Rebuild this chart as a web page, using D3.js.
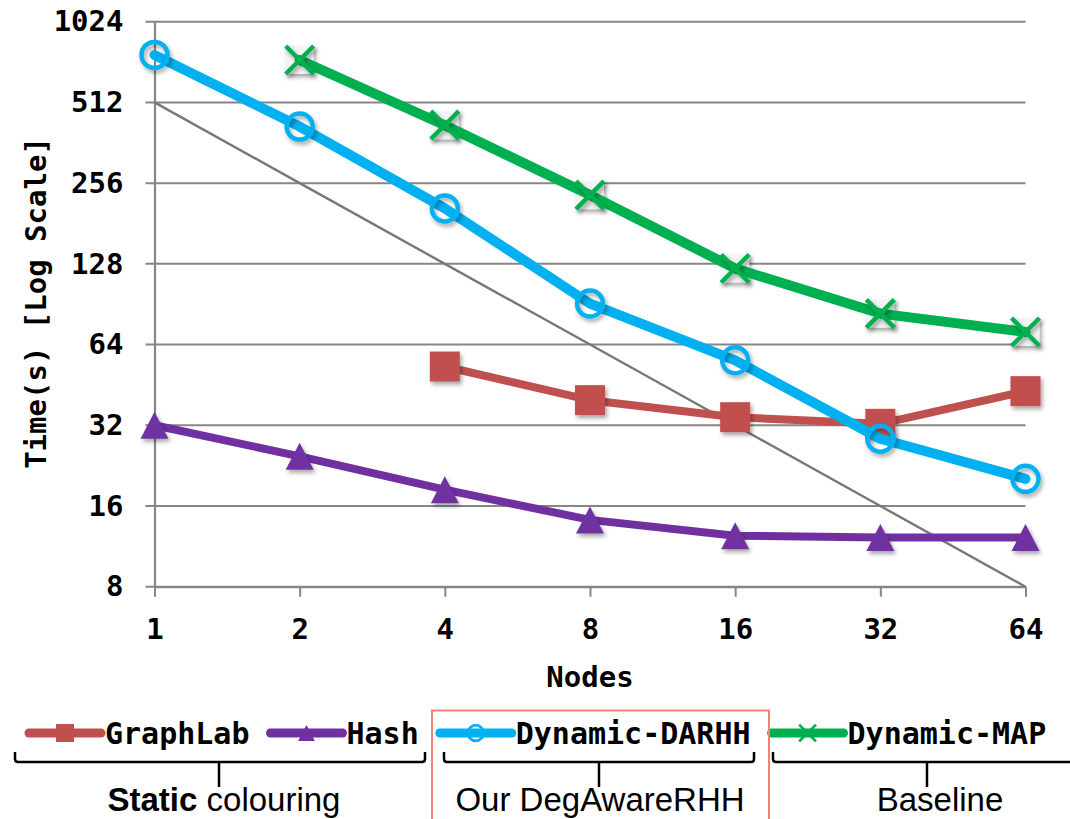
<!DOCTYPE html>
<html>
<head>
<meta charset="utf-8">
<script src="https://cdn.jsdelivr.net/npm/d3@7"></script>
<style>
  html, body { margin: 0; padding: 0; background: #fff; }
  svg { display: block; }
</style>
</head>
<body>
<svg id="chart" width="1070" height="819"></svg>
<script>
// ---------- data ----------
const nodes = [1, 2, 4, 8, 16, 32, 64];
const yTickValues = [8, 16, 32, 64, 128, 256, 512, 1024];
const graphLab = [null, null, 53, 39.7, 34.3, 32.4, 42.9];
const hashVals = [32, 24.5, 18.4, 14.2, 12.4, 12.2, 12.2];
const darhh = [770, 416, 206, 91, 55.9, 28.5, 20.2];
const dynMap = [null, 737, 421, 231, 123, 83.5, 71.3];
const idealScaling = [512, 256, 128, 64, 32, 16, 8];
const seriesNames = ["GraphLab", "Hash", "Dynamic-DARHH", "Dynamic-MAP"];
const groupLabels = ["Static colouring", "Our DegAwareRHH", "Baseline"];
const xTitle = "Nodes";
const yTitle = "Time(s) [Log Scale]";

// ---------- setup ----------
const svg = d3.select("#chart");
const mono = "'DejaVu Sans Mono', 'Liberation Mono', monospace";
const sans = "'Liberation Sans', Arial, sans-serif";
const gridColor = "#868686";

const x0 = 154.5, x1 = 1025.5, yTop = 21.7, yBot = 586.7;
const x = d3.scaleLog().base(2).domain([1, 64]).range([x0, x1]);
const y = d3.scaleLog().base(2).domain([8, 1024]).range([yBot, yTop]);

const defs = svg.append("defs");
const f = defs.append("filter").attr("id", "shadow")
  .attr("x", "-50%").attr("y", "-50%").attr("width", "200%").attr("height", "200%");
f.append("feDropShadow").attr("dx", 2).attr("dy", 3).attr("stdDeviation", 2)
  .attr("flood-color", "#000").attr("flood-opacity", 0.35);

// gridlines
svg.append("g").selectAll("line").data(yTickValues).join("line")
  .attr("x1", x0 - 9).attr("x2", x1)
  .attr("y1", d => y(d)).attr("y2", d => y(d))
  .attr("stroke", gridColor).attr("stroke-width", 2);

// y axis
const yAxis = svg.append("g").attr("transform", `translate(${x0},0)`)
  .call(d3.axisLeft(y).tickValues(yTickValues).tickFormat(d3.format("d"))
    .tickSize(0).tickPadding(31));
yAxis.select(".domain").attr("stroke", gridColor).attr("stroke-width", 2.2);
yAxis.selectAll("text").attr("font-family", mono).attr("font-weight", "bold")
  .attr("font-size", 29).attr("fill", "#000");

// x axis
const xAxis = svg.append("g").attr("transform", `translate(0,${yBot})`)
  .call(d3.axisBottom(x).tickValues(nodes).tickFormat(d3.format("d"))
    .tickSizeInner(10).tickSizeOuter(0).tickPadding(22));
xAxis.select(".domain").attr("stroke", gridColor).attr("stroke-width", 2);
xAxis.selectAll(".tick line").attr("stroke", gridColor).attr("stroke-width", 2);
xAxis.selectAll("text").attr("font-family", mono).attr("font-weight", "bold")
  .attr("font-size", 29).attr("fill", "#000");

// axis titles
svg.append("text").attr("x", 590).attr("y", 687).attr("text-anchor", "middle")
  .attr("font-family", mono).attr("font-weight", "bold").attr("font-size", 29)
  .text(xTitle);
svg.append("text").attr("transform", "translate(36,303) rotate(-90)")
  .attr("text-anchor", "middle").attr("dy", "0.35em")
  .attr("font-family", mono).attr("font-weight", "bold").attr("font-size", 29)
  .text(yTitle);

// ideal line
const line = d3.line().defined(d => d.v != null).x(d => x(d.n)).y(d => y(d.v));
const zip = arr => nodes.map((n, i) => ({ n, v: arr[i] }));
svg.append("path").datum(zip(idealScaling)).attr("d", line)
  .attr("fill", "none").attr("stroke", "#787878").attr("stroke-width", 2.4);

// series definitions
const series = [
  { name: seriesNames[0], vals: graphLab, color: "#C0504D", w: 8, marker: "square" },
  { name: seriesNames[1], vals: hashVals, color: "#7030A0", w: 8, marker: "triangle" },
  { name: seriesNames[2], vals: darhh, color: "#00B0F0", w: 10, marker: "circle" },
  { name: seriesNames[3], vals: dynMap, color: "#00B050", w: 10, marker: "x" }
];

function drawMarker(g, type, color, s) {
  if (type === "square") {
    const a = 30 * s;
    g.append("rect").attr("x", -a / 2).attr("y", -a / 2).attr("width", a).attr("height", a)
      .attr("fill", color);
  } else if (type === "triangle") {
    const w = 28 * s, h = 27 * s;
    g.append("path").attr("d", `M0,${-h / 2}L${w / 2},${h / 2}L${-w / 2},${h / 2}Z`)
      .attr("fill", color);
  } else if (type === "circle") {
    g.append("circle").attr("r", 13 * s).attr("fill", "none")
      .attr("stroke", color).attr("stroke-width", 4.5 * s);
  } else if (type === "x") {
    const a = 14 * s;
    g.append("path").attr("d", `M${-a},${-a}L${a},${a}M${-a},${a}L${a},${-a}`)
      .attr("stroke", color).attr("stroke-width", 4.5 * s).attr("fill", "none");
  }
}

// draw lines
series.forEach(sr => {
  const data = zip(sr.vals);
  const pts = data.filter(d => d.v != null);
  const g = svg.append("g");
  if (sr.marker === "x") {
    // faint shadowed backing squares behind the X markers
    g.selectAll("rect.bk").data(pts).join("rect").attr("class", "bk")
      .attr("x", d => x(d.n) - 14).attr("y", d => y(d.v) - 14)
      .attr("width", 28).attr("height", 28)
      .attr("fill", "#f4f4f4").attr("filter", "url(#shadow)");
  }
  g.append("path").datum(data).attr("d", line).attr("fill", "none")
    .attr("stroke", sr.color).attr("stroke-width", sr.w)
    .attr("stroke-linejoin", "round").attr("stroke-linecap", "round");
  g.selectAll("g.m").data(pts).join("g")
    .attr("class", "m")
    .attr("transform", d => `translate(${x(d.n)},${y(d.v)})`)
    .attr("filter", "url(#shadow)")
    .each(function () { drawMarker(d3.select(this), sr.marker, sr.color, 1); });
});

// ---------- legend ----------
const legY = 733;
const lineLen = 72;
let cx = 29;
series.forEach((sr, i) => {
  const g = svg.append("g");
  g.append("line").attr("x1", cx).attr("x2", cx + lineLen).attr("y1", legY).attr("y2", legY)
    .attr("stroke", sr.color).attr("stroke-width", 9).attr("stroke-linecap", "round");
  const mg = g.append("g").attr("transform", `translate(${cx + lineLen / 2},${legY})`);
  drawMarker(mg, sr.marker, sr.color, 0.6);
  const t = g.append("text").attr("x", cx + lineLen + 4).attr("y", legY).attr("dy", "0.36em")
    .attr("font-family", mono).attr("font-weight", "bold").attr("font-size", 30)
    .attr("fill", "#000").text(sr.name);
  const tw = t.node().getComputedTextLength();
  cx = cx + lineLen + 4 + tw + 21;
});

// highlight box
svg.append("rect").attr("x", 432).attr("y", 710.5).attr("width", 337).attr("height", 130)
  .attr("fill", "none").attr("stroke", "#F4807A").attr("stroke-width", 2);

// braces
const braceY = 762, braceTopY = 752, braceTickY = 787;
const braces = [
  { a: 15, b: 425, c: 219, label: groupLabels[0], lx: 224 },
  { a: 444, b: 754, c: 599, label: groupLabels[1], lx: 600 },
  { a: 773, b: 1080, c: 927, label: groupLabels[2], lx: 940 }
];
braces.forEach((br, i) => {
  const r = 3;
  const p = `M${br.a},${braceTopY}L${br.a},${braceY - r}Q${br.a},${braceY} ${br.a + r},${braceY}` +
    `L${br.b - r},${braceY}Q${br.b},${braceY} ${br.b},${braceY - r}L${br.b},${braceTopY}` +
    `M${br.c},${braceY}L${br.c},${braceTickY}`;
  svg.append("path").attr("d", p).attr("fill", "none").attr("stroke", "#000").attr("stroke-width", 2.5);
  const t = svg.append("text").attr("x", br.lx).attr("y", 811).attr("text-anchor", "middle")
    .attr("font-family", sans).attr("font-size", 33).attr("fill", "#000");
  if (i === 0) {
    const parts = br.label.split(" ");
    t.append("tspan").attr("font-weight", "bold").text(parts[0]);
    t.append("tspan").text(" " + parts.slice(1).join(" "));
  } else {
    t.text(br.label);
  }
});
</script>
</body>
</html>
